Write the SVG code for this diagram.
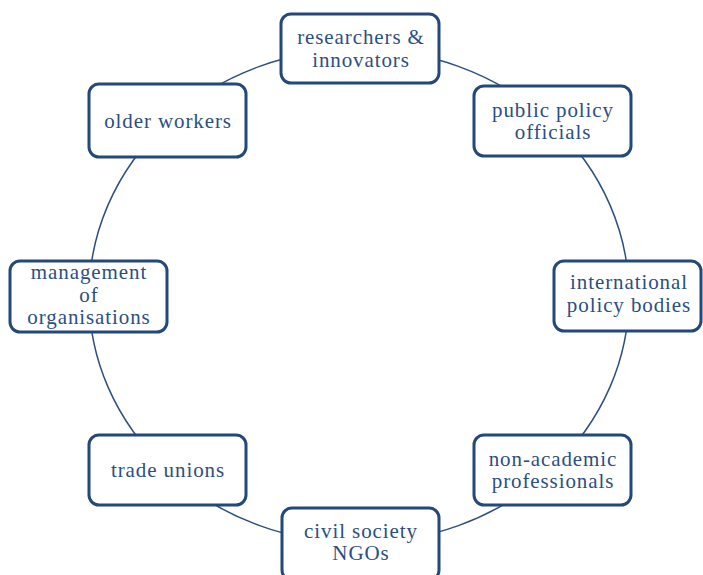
<svg xmlns="http://www.w3.org/2000/svg" width="703" height="575" viewBox="0 0 703 575">
<style>
.box{fill:#fff;stroke:#24487a;stroke-width:3}
.lbl{font-family:'Liberation Serif','Times New Roman','DejaVu Serif',serif;font-size:21px;fill:#2c4f82;text-anchor:middle;letter-spacing:0.9px}
.conn{fill:none;stroke:#2c4f82;stroke-width:1.5}
</style>
<rect width="703" height="575" fill="#fff"/>
<g id="connectors">
<ellipse class="conn" cx="359" cy="296" rx="270" ry="247"/>
</g>
<g id="n-researchers">
<rect class="box" x="281" y="14" width="158" height="69" rx="10"/>
<text class="lbl" x="361" y="44">researchers &amp;</text>
<text class="lbl" x="361" y="67">innovators</text>
</g>
<g id="n-public">
<rect class="box" x="474" y="86" width="157" height="70" rx="10"/>
<text class="lbl" x="553" y="117">public policy</text>
<text class="lbl" x="553" y="139">officials</text>
</g>
<g id="n-international">
<rect class="box" x="554" y="261" width="147" height="70" rx="10"/>
<text class="lbl" x="629" y="289">international</text>
<text class="lbl" x="629" y="312">policy bodies</text>
</g>
<g id="n-nonacademic">
<rect class="box" x="474" y="435" width="157" height="70" rx="10"/>
<text class="lbl" x="553" y="466">non-academic</text>
<text class="lbl" x="553" y="488">professionals</text>
</g>
<g id="n-civil">
<rect class="box" x="282" y="508" width="157" height="72" rx="10"/>
<text class="lbl" x="361" y="538">civil society</text>
<text class="lbl" x="361" y="560">NGOs</text>
</g>
<g id="n-trade">
<rect class="box" x="89" y="435" width="157" height="70" rx="10"/>
<text class="lbl" x="168" y="477">trade unions</text>
</g>
<g id="n-management">
<rect class="box" x="10" y="261" width="157" height="71" rx="10"/>
<text class="lbl" x="89" y="279">management</text>
<text class="lbl" x="89" y="302">of</text>
<text class="lbl" x="89" y="324">organisations</text>
</g>
<g id="n-older">
<rect class="box" x="89" y="84" width="157" height="73" rx="10"/>
<text class="lbl" x="168" y="128">older workers</text>
</g>
</svg>
